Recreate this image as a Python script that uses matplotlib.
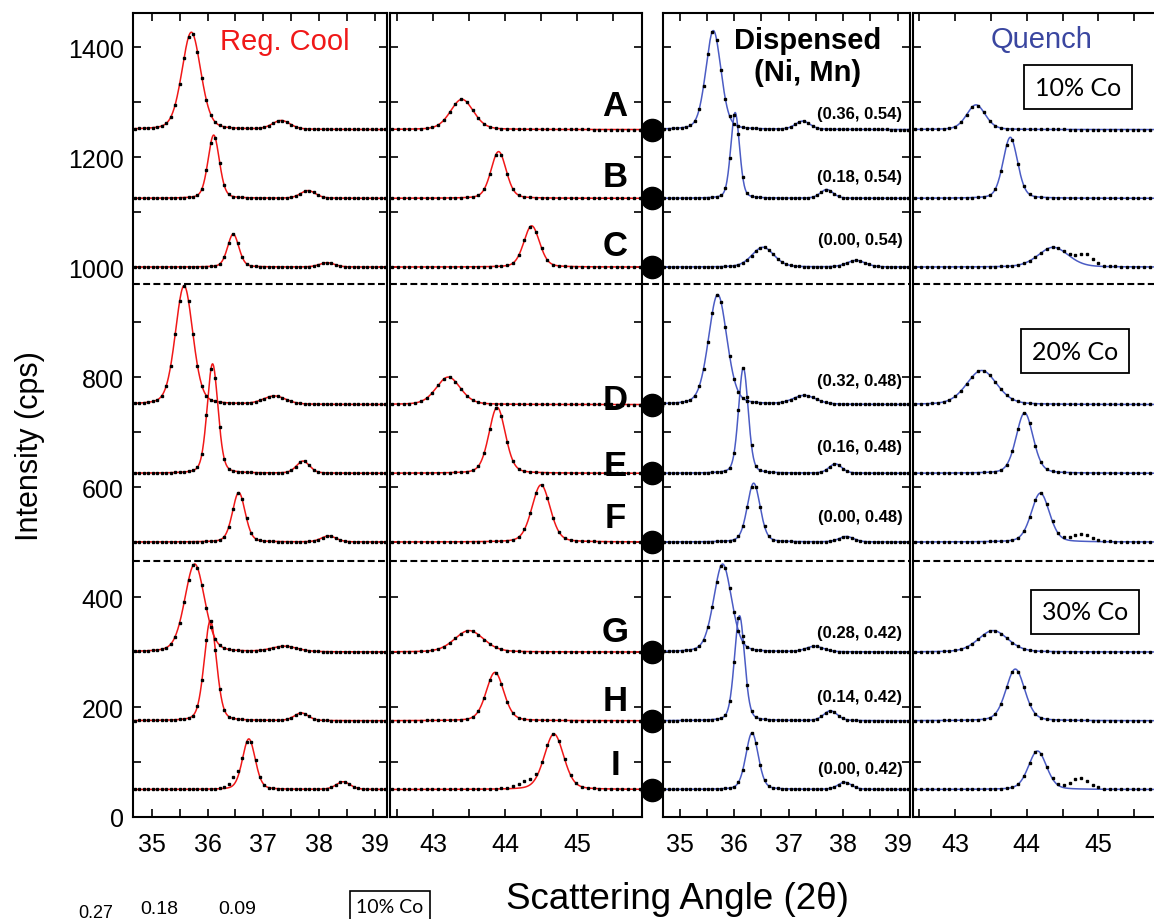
import numpy as np
import matplotlib
matplotlib.use("Agg")
import matplotlib.pyplot as plt
from matplotlib.ticker import MultipleLocator

plt.rcParams['font.family'] = ['Liberation Sans', 'DejaVu Sans']

# vertical offset of each pattern (cps)
offsets = [1250, 1125, 1000, 750, 625, 500, 300, 175, 50]
sample_labels = ["A", "B", "C", "D", "E", "F", "G", "H", "I"]
compositions = ["(0.36, 0.54)", "(0.18, 0.54)", "(0.00, 0.54)",
                "(0.32, 0.48)", "(0.16, 0.48)", "(0.00, 0.48)",
                "(0.28, 0.42)", "(0.14, 0.42)", "(0.00, 0.42)"]
co_labels = ["10% Co", "20% Co", "30% Co"]
separators = [970, 465]

# fitted peaks (center 2theta, height cps, fwhm) for each sample
reg_low = [
    [(35.71, 177, 0.40), (37.32, 16, 0.38)],
    [(36.11, 115, 0.24), (37.80, 14, 0.32)],
    [(36.46, 60, 0.24), (38.14, 8, 0.32)],
    [(35.58, 216, 0.37), (37.20, 15, 0.48)],
    [(36.09, 199, 0.23), (37.71, 22, 0.28)],
    [(36.56, 90, 0.27), (38.17, 11, 0.32)],
    [(35.77, 160, 0.42), (37.38, 10, 0.55)],
    [(36.05, 182, 0.26), (37.68, 14, 0.30)],
    [(36.74, 92, 0.27), (38.43, 14, 0.30)],
]
reg_high = [
    [(43.40, 55, 0.38)],
    [(43.91, 85, 0.25)],
    [(44.37, 75, 0.26)],
    [(43.21, 50, 0.40)],
    [(43.89, 120, 0.27)],
    [(44.50, 104, 0.30)],
    [(43.50, 39, 0.48)],
    [(43.86, 88, 0.29)],
    [(44.68, 101, 0.32)],
]
quench_low = [
    [(35.62, 180, 0.33), (37.26, 15, 0.32)],
    [(36.02, 156, 0.19), (37.70, 16, 0.28)],
    [(36.53, 36, 0.48), (38.24, 12, 0.40)],
    [(35.70, 200, 0.40), (37.29, 16, 0.50)],
    [(36.17, 192, 0.21), (37.86, 17, 0.28)],
    [(36.36, 107, 0.28), (38.06, 10, 0.32)],
    [(35.79, 160, 0.39), (37.48, 10, 0.38)],
    [(36.10, 191, 0.22), (37.77, 18, 0.30)],
    [(36.33, 103, 0.27), (38.03, 13, 0.30)],
]
quench_high = [
    [(43.29, 45, 0.31)],
    [(43.77, 111, 0.24)],
    [(44.37, 36, 0.50)],
    [(43.37, 62, 0.50)],
    [(43.97, 110, 0.28)],
    [(44.19, 89, 0.30)],
    [(43.53, 39, 0.49)],
    [(43.84, 94, 0.31)],
    [(44.15, 70, 0.30)],
]

# shoulders present in the measured points but left out of the fit
reg_low_extra = {8: [(36.48, 15, 0.20)]}
reg_high_extra = {8: [(44.30, 12, 0.30)]}
quench_high_extra = {2: [(44.82, 20, 0.25)], 5: [(44.77, 14, 0.30)],
                     8: [(44.75, 20, 0.30)]}

RED = "#f01818"
BLUE = "#4b5cc4"
W, H = 1154, 920

# label heights above each baseline (cps)
letter_lift = [43, 40, 40, 10, 15, 45, 38, 36, 46]
comp_lift = [30, 40, 51, 43, 48, 47, 36, 45, 39]


def pseudo_voigt(x, peaks, eta=0.25):
    y = np.zeros_like(x)
    for c, h, w in peaks:
        u = (x - c) / w
        g = np.exp(-4 * np.log(2) * u ** 2)
        lor = 1 / (1 + 4 * u ** 2)
        y += h * (eta * lor + (1 - eta) * g)
    return y


def draw_panel(ax, xlim, peak_sets, extras, color):
    xf = np.linspace(xlim[0], xlim[1], 700)
    xd = np.arange(xlim[0] + 0.03, xlim[1], 0.08)
    for i, off in enumerate(offsets):
        ax.plot(xf, off + pseudo_voigt(xf, peak_sets[i]), color=color, lw=1.1, zorder=2)
        pts = pseudo_voigt(xd, peak_sets[i] + extras.get(i, []))
        ax.plot(xd, off + pts, 's', color='k', ms=1.8, zorder=3)
    for s in separators:
        ax.axhline(s, color='k', lw=1.5, ls=(0, (3.3, 1.6)), zorder=1)
    ax.set_xlim(*xlim)
    ax.set_ylim(0, 1462)
    ax.xaxis.set_major_locator(MultipleLocator(1))
    ax.xaxis.set_minor_locator(MultipleLocator(0.5))
    ax.yaxis.set_major_locator(MultipleLocator(200))
    ax.yaxis.set_minor_locator(MultipleLocator(100))
    ax.tick_params(which='both', direction='in', top=True, right=True,
                   length=6, width=1.2, labelsize=18)
    ax.tick_params(axis='x', pad=11)
    ax.tick_params(axis='y', pad=7)
    for sp in ax.spines.values():
        sp.set_linewidth(1.5)


fig = plt.figure(figsize=(W / 100, H / 100), dpi=100)
bot = 1 - 818 / H
hgt = (818 - 14) / H


def panel_rect(x0, x1):
    return [x0 / W, bot, (x1 - x0) / W, hgt]


ax1 = fig.add_axes(panel_rect(133.3, 386.7))
ax2 = fig.add_axes(panel_rect(390, 641.7))
ax3 = fig.add_axes(panel_rect(662.7, 909.5))
ax4 = fig.add_axes(panel_rect(913, 1162))
gap = fig.add_axes(panel_rect(641.7, 662.7), zorder=5)

draw_panel(ax1, (34.67, 39.21), reg_low, reg_low_extra, RED)
draw_panel(ax2, (42.40, 45.90), reg_high, reg_high_extra, RED)
draw_panel(ax3, (34.69, 39.22), quench_low, {}, BLUE)
draw_panel(ax4, (42.41, 45.89), quench_high, quench_high_extra, BLUE)
for ax in (ax2, ax3, ax4):
    ax.tick_params(labelleft=False)

# markers between the two halves
gap.set_xlim(0, 1)
gap.set_ylim(0, 1462)
gap.axis('off')
gap.patch.set_alpha(0)
for s in separators:
    gap.axhline(s, color='k', lw=1.5, ls=(0, (3.3, 1.6)))
gap.plot([0.5] * len(offsets), offsets, 'o', color='k', ms=16, clip_on=False)

for lab, off, dy in zip(sample_labels, offsets, letter_lift):
    ax2.text(45.53, off + dy, lab, fontsize=25, fontweight='bold',
             ha='center', va='center')
for comp, off, dy in zip(compositions, offsets, comp_lift):
    ax3.text(39.09, off + dy, comp, fontsize=12, fontweight='bold',
             ha='right', va='center')

fig.text(285 / W, 1 - 42 / H, "Reg. Cool", color=RED, fontsize=21,
         ha='center', va='center')
fig.text(808 / W, 1 - 57 / H, "Dispensed\n(Ni, Mn)", fontsize=21,
         fontweight='bold', ha='center', va='center', linespacing=1.15)
fig.text(1042 / W, 1 - 40 / H, "Quench", color="#3a46a0", fontsize=21,
         ha='center', va='center')

box = dict(boxstyle='square,pad=0.42', fc='white', ec='k', lw=1.3)
for lab, (bx, by) in zip(co_labels, [(1078, 88), (1075, 352), (1085, 613)]):
    fig.text(bx / W, 1 - by / H, lab, fontsize=18, family=['Lato', 'DejaVu Sans'],
             ha='center', va='center', bbox=box)

fig.text(30 / W, 1 - 446 / H, "Intensity (cps)", fontsize=22, rotation=90,
         ha='center', va='center')
fig.text(677 / W, 1 - 900 / H, "Scattering Angle (2θ)", fontsize=26.5,
         ha='center', va='center')

# top of the next figure, at the page edge
fig.text(96 / W, 1 - 905 / H, "0.27", fontsize=13, ha='center', va='top')
fig.text(159 / W, 1 - 901 / H, "0.18", fontsize=14, ha='center', va='top')
fig.text(237 / W, 1 - 901 / H, "0.09", fontsize=14, ha='center', va='top')
fig.text(390 / W, 1 - 899 / H, "10% Co", fontsize=14, family=['Lato', 'DejaVu Sans'],
         ha='center', va='top',
         bbox=dict(boxstyle='square,pad=0.35', fc='white', ec='k', lw=1.2))

fig.savefig("out.png", dpi=100)
